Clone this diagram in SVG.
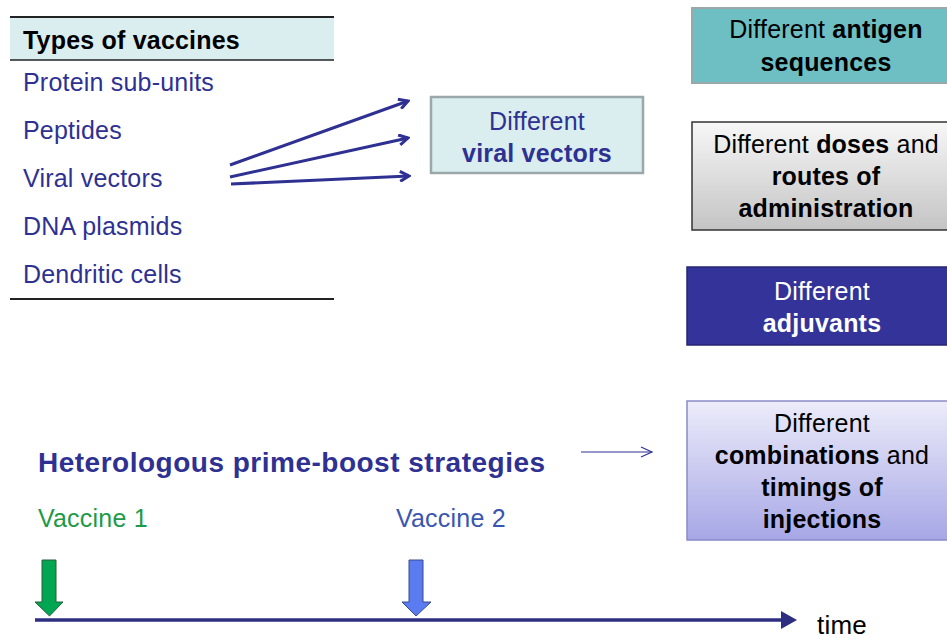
<svg xmlns="http://www.w3.org/2000/svg" width="947" height="639" viewBox="0 0 947 639">
<style>
text{font-family:"Liberation Sans",Arial,sans-serif;font-size:25px;letter-spacing:0.2px}
.item{fill:#2E3192}
.bl{fill:#000;text-anchor:middle}
.b{font-weight:bold}
.conn{stroke:#2E3192;stroke-width:3;fill:none}
</style>
<defs>
<marker id="open" markerWidth="12" markerHeight="12" refX="10" refY="6" orient="auto" markerUnits="userSpaceOnUse">
<path d="M1,1 L10,6 L1,11" fill="none" stroke="#2E3192" stroke-width="3"/>
</marker>
<marker id="openThin" markerWidth="14" markerHeight="12" refX="12" refY="6" orient="auto" markerUnits="userSpaceOnUse">
<path d="M1,1 L12,6 L1,11" fill="none" stroke="#2E3192" stroke-width="1.2"/>
</marker>
<linearGradient id="gray" x1="0" y1="0" x2="0" y2="1">
<stop offset="0" stop-color="#F7F7F7"/><stop offset="1" stop-color="#C4C4C4"/>
</linearGradient>
<linearGradient id="lav" x1="0" y1="0" x2="0" y2="1">
<stop offset="0" stop-color="#ECECFA"/><stop offset="1" stop-color="#A7A7E6"/>
</linearGradient>
</defs>
<rect width="947" height="639" fill="#fff"/>

<g id="table">
<rect x="10" y="17" width="324" height="43" fill="#DAEEF0"/>
<line x1="10" y1="17" x2="334" y2="17" stroke="#222" stroke-width="2"/>
<line x1="10" y1="60" x2="334" y2="60" stroke="#222" stroke-width="1.5"/>
<line x1="10" y1="299" x2="334" y2="299" stroke="#222" stroke-width="2"/>
<text x="23" y="49" font-weight="bold" fill="#000">Types of vaccines</text>
<text class="item" x="23" y="91">Protein sub-units</text>
<text class="item" x="23" y="139">Peptides</text>
<text class="item" x="23" y="187">Viral vectors</text>
<text class="item" x="23" y="235">DNA plasmids</text>
<text class="item" x="23" y="283">Dendritic cells</text>
</g>

<g id="viral-vectors">
<rect x="431" y="97" width="212" height="76" fill="#DAEEF0" stroke="#9AA8A9" stroke-width="2.5"/>
<text x="537" y="130" fill="#2E3192" text-anchor="middle">Different</text>
<text x="537" y="162" fill="#2E3192" text-anchor="middle" font-weight="bold">viral vectors</text>
</g>

<g id="antigen">
<rect x="692" y="8" width="260" height="75" fill="#6DBFC4" stroke="#9AA8A9" stroke-width="2"/>
<text class="bl" x="826" y="38">Different <tspan class="b">antigen</tspan></text>
<text class="bl b" x="826" y="71">sequences</text>
</g>

<g id="doses">
<rect x="692" y="122" width="260" height="108" fill="url(#gray)" stroke="#333" stroke-width="1.5"/>
<text class="bl" x="826" y="153">Different <tspan class="b">doses</tspan> and</text>
<text class="bl b" x="826" y="185">routes of</text>
<text class="bl b" x="826" y="217">administration</text>
</g>

<g id="adjuvants">
<rect x="687" y="267" width="265" height="78" fill="#333399" stroke="#262673" stroke-width="1.5"/>
<text class="bl" x="822" y="300" style="fill:#fff">Different</text>
<text class="bl b" x="822" y="332" style="fill:#fff">adjuvants</text>
</g>

<g id="combinations">
<rect x="687" y="401" width="265" height="139" fill="url(#lav)" stroke="#8A8AC8" stroke-width="1.5"/>
<text class="bl" x="822" y="432">Different</text>
<text class="bl" x="822" y="464"><tspan class="b">combinations</tspan> and</text>
<text class="bl b" x="822" y="496">timings of</text>
<text class="bl b" x="822" y="528">injections</text>
</g>

<g id="prime-boost">
<text x="38" y="472" font-size="28" style="font-size:28px;letter-spacing:0.5px" font-weight="bold" fill="#2E3192">Heterologous prime-boost strategies</text>
<text x="38" y="527" fill="#1E9A48">Vaccine 1</text>
<text x="396" y="527" fill="#3A56B0">Vaccine 2</text>
<text x="817" y="634" fill="#000" style="font-size:26px">time</text>
</g>

<g id="vaccine1-arrow">
<path d="M42,560 L56,560 L56,602 L63,602 L49.5,616 L35,602 L42,602 Z" fill="#00A651" stroke="#2B5E3A" stroke-width="1"/>
</g>
<g id="vaccine2-arrow">
<path d="M409,560 L423,560 L423,602 L431,602 L416,616 L402,602 L409,602 Z" fill="#5B7BF0" stroke="#3A4A8A" stroke-width="1"/>
</g>

<g id="connectors">
<line class="conn" x1="230" y1="165" x2="408" y2="101" marker-end="url(#open)"/>
<line class="conn" x1="230" y1="177" x2="408" y2="138" marker-end="url(#open)"/>
<line class="conn" x1="231" y1="184" x2="409" y2="176" marker-end="url(#open)"/>
<line x1="581" y1="452" x2="652" y2="452" stroke="#2E3192" stroke-width="1.2" marker-end="url(#openThin)"/>
<line x1="35" y1="620" x2="784" y2="620" stroke="#2E2E80" stroke-width="3.5"/>
<path d="M781,611 L797,620 L781,629 Z" fill="#2E2E80"/>
</g>
</svg>
